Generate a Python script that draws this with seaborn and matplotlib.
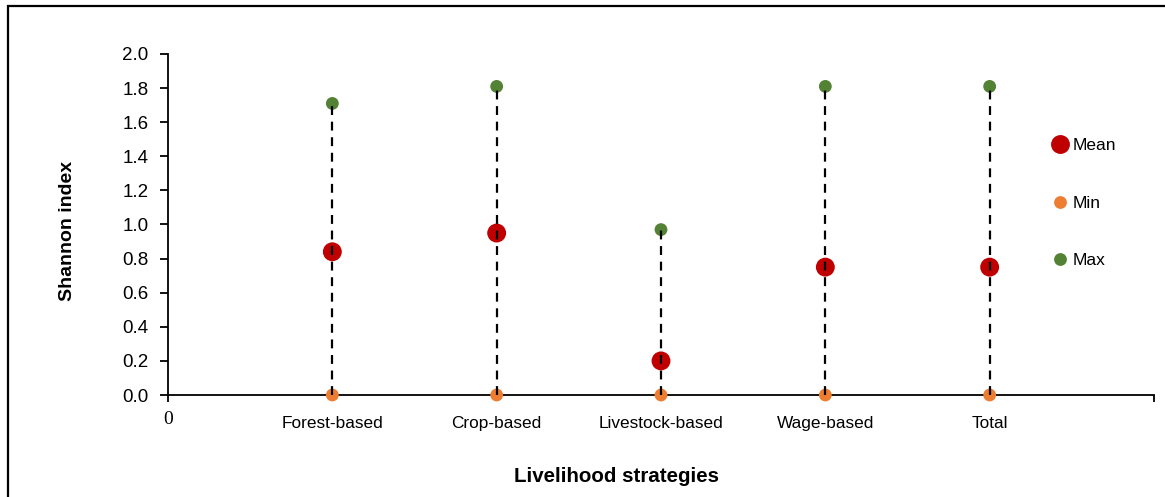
import numpy as np
import pandas as pd
import matplotlib
matplotlib.use('Agg')
import matplotlib.pyplot as plt
import matplotlib.transforms as mtransforms
from matplotlib.patches import Rectangle
import seaborn as sns

# data
strategies = ['Forest-based', 'Crop-based', 'Livestock-based', 'Wage-based', 'Total']
mean_vals = [0.84, 0.95, 0.20, 0.75, 0.75]
min_vals = [0.0, 0.0, 0.0, 0.0, 0.0]
max_vals = [1.71, 1.81, 0.97, 1.81, 1.81]
stat_names = ['Mean', 'Min', 'Max']

positions = np.arange(1, len(strategies) + 1)

df = pd.DataFrame({
    'pos': np.tile(positions, 3),
    'strategy': strategies * 3,
    'stat': np.repeat(stat_names, len(strategies)),
    'value': mean_vals + min_vals + max_vals,
})

sns.set_style('white')
plt.rcParams['font.family'] = ['Liberation Sans', 'DejaVu Sans']
plt.rcParams['text.color'] = 'black'
plt.rcParams['xtick.color'] = 'black'
plt.rcParams['ytick.color'] = 'black'

fig = plt.figure(figsize=(11.65, 4.97), dpi=100)
ax = fig.add_axes([168 / 1165, 1 - 395 / 497, (1154 - 168) / 1165, (395 - 54) / 497])

palette = {'Mean': '#C00000', 'Min': '#ED7D31', 'Max': '#548235'}
sizes = {'Mean': 185, 'Min': 85, 'Max': 85}

# high-low dashed lines between min and max
ax.vlines(positions, min_vals, max_vals, colors='black', linestyles=(0, (4, 3)),
          linewidth=1.6, zorder=4)

sns.scatterplot(data=df, x='pos', y='value', hue='stat', size='stat',
                hue_order=stat_names, size_order=stat_names,
                palette=palette, sizes=sizes, linewidth=0,
                clip_on=False, zorder=3, ax=ax)

ax.set_xlim(0, 6)
ax.set_ylim(0, 2.0)
ax.set_yticks(np.arange(0, 2.01, 0.2))
ax.set_yticklabels([f'{v:.1f}' for v in np.arange(0, 2.01, 0.2)], fontsize=13.5)
ax.set_xticks(positions)
ax.set_xticklabels(strategies, fontsize=12.4)
ax.tick_params(axis='x', bottom=True, length=0, pad=15)
ax.tick_params(axis='y', left=True, length=6, width=1.3, direction='out', pad=8)
ax.set_xticks([0, 6], minor=True)
ax.tick_params(axis='x', which='minor', bottom=True, length=5, width=1.3, direction='out')

# the lone "0" at the origin
trans = mtransforms.blended_transform_factory(ax.transData, fig.transFigure)
ax.text(0, 1 - 419 / 497, '0', family='Liberation Serif', fontsize=14,
        ha='center', va='center', transform=trans)

sns.despine(ax=ax, top=True, right=True)
for s in ['left', 'bottom']:
    ax.spines[s].set_color('black')
    ax.spines[s].set_linewidth(1.3)

ax.set_xlabel('')
ax.set_ylabel('')
fig.text(617 / 1165, 1 - 476 / 497, 'Livelihood strategies', fontsize=14.8,
         fontweight='bold', ha='center', va='center')
fig.text(68 / 1165, 1 - 231 / 497, 'Shannon index', fontsize=14,
         fontweight='bold', ha='center', va='center', rotation=90)

handles, labels = ax.get_legend_handles_labels()
ax.legend(handles, labels, loc='center left', frameon=False,
          bbox_to_anchor=(1043 / 1165, 1 - 203 / 497), bbox_transform=fig.transFigure,
          fontsize=12.5, labelspacing=2.45, handletextpad=-0.3, borderaxespad=0,
          borderpad=0)

# outer frame of the picture
fig.patches.append(Rectangle((8 / 1165, -0.1), 1.2, 1 - 6 / 497 + 0.1,
                             transform=fig.transFigure, fill=False,
                             edgecolor='black', linewidth=1.6))

plt.savefig('out.png', dpi=100)
